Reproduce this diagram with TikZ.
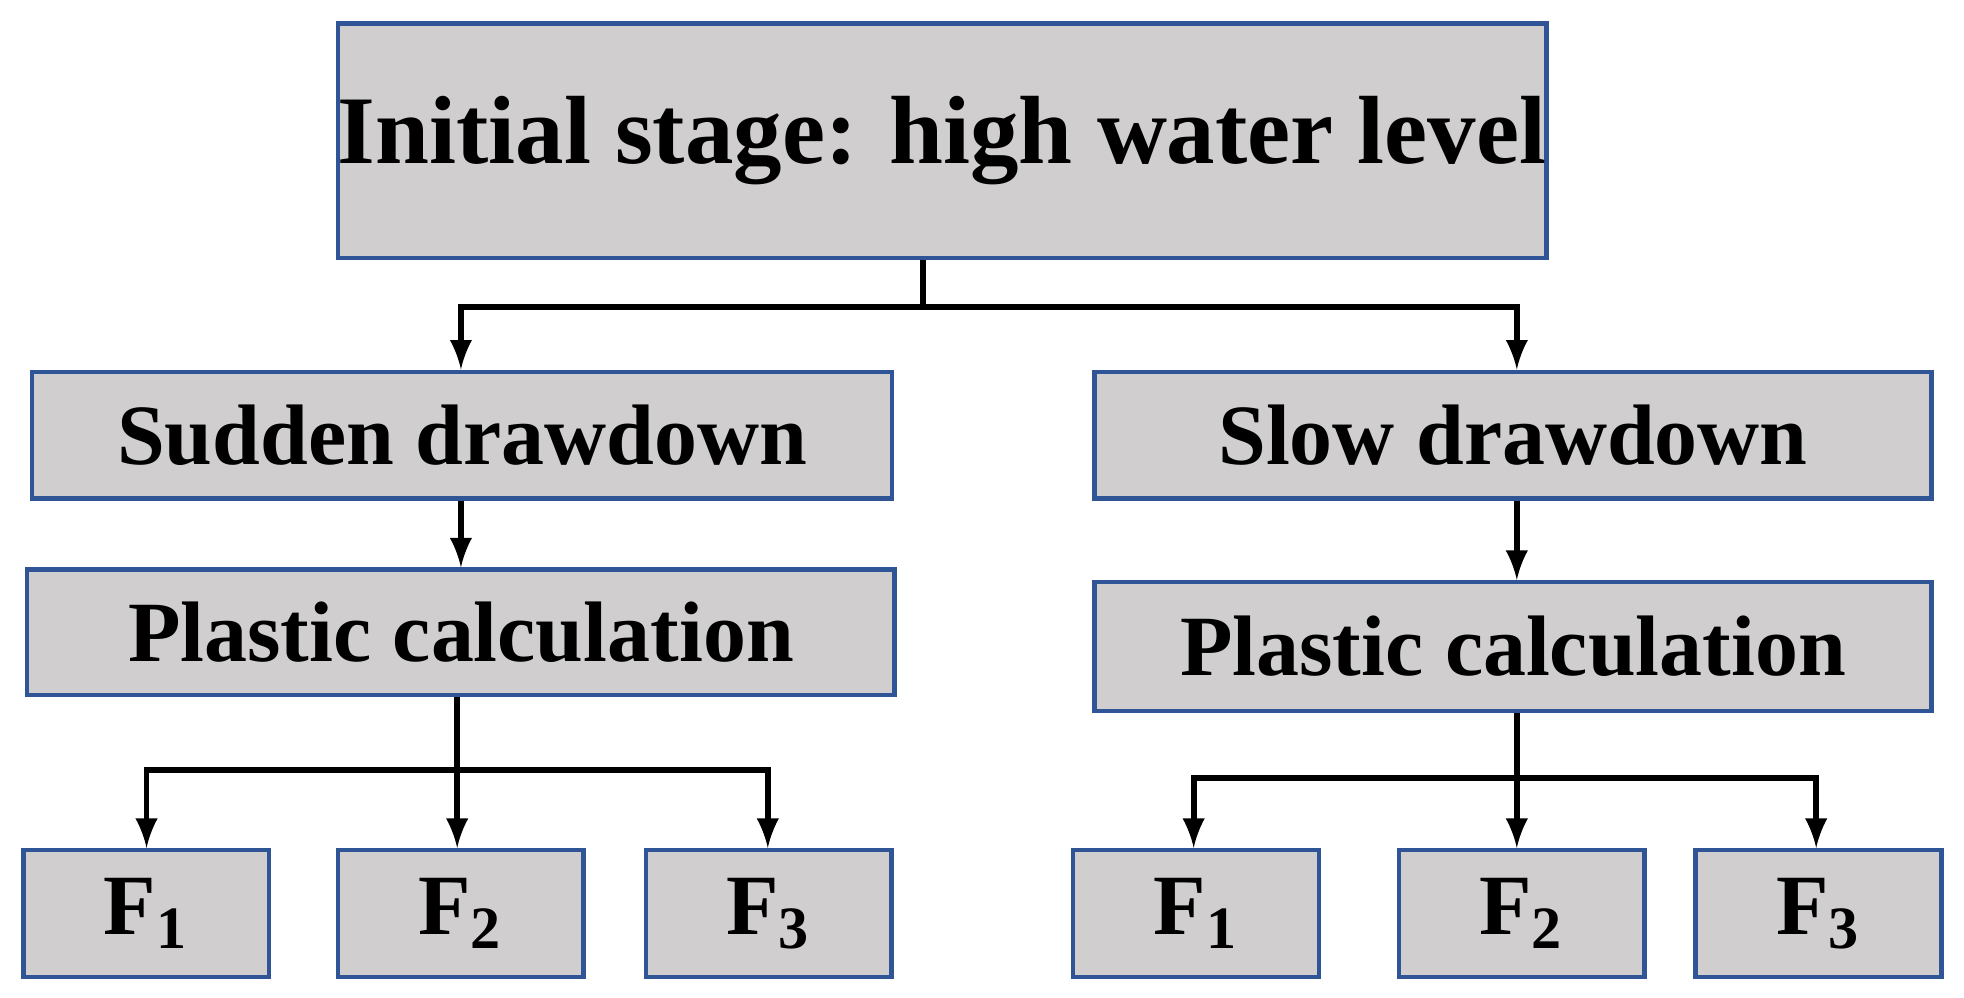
\documentclass[tikz,border=0pt]{standalone}
\usepackage{fontspec}
\setmainfont{Liberation Serif}
\usetikzlibrary{calc}
\usetikzlibrary{positioning}
\definecolor{boxfill}{HTML}{D0CECF}
\definecolor{boxline}{HTML}{2F5597}
\begin{document}
\begin{tikzpicture}
		[x=0.01cm,y=-0.01cm,
		font=\bfseries,
		>=latex
		]
		
		% Box and arrow styles
		\tikzstyle{box}=[draw=boxline,fill=boxfill,line width=1pt,inner sep=0,anchor=north west];
		\tikzstyle{arrow}=[draw,line width=1.3pt,->];
		\useasboundingbox (0,0) rectangle (1568,796);
		
		% Top level
		\node(top)[box,minimum width=9.37cm,minimum height=1.87cm,font=\fontsize{22}{26}\bfseries]at(268,17){Initial stage: high water level};
		
		% Second level
		\node(sudden)[box,minimum width=6.86cm,minimum height=1.01cm,font=\fontsize{19.5}{23}\bfseries]at(24,295){Sudden drawdown};
		\node(slow)[box,minimum width=6.68cm,minimum height=1.01cm,font=\fontsize{19.5}{23}\bfseries]at(872,295){Slow drawdown};
		
		% Plastic calculation
		\node(plastL)[box,minimum width=6.92cm,minimum height=1.00cm,font=\fontsize{19.5}{23}\bfseries]at(20,453){Plastic calculation};
		\node(plastR)[box,minimum width=6.68cm,minimum height=1.03cm,font=\fontsize{19.5}{23}\bfseries]at(872,463){Plastic calculation};
		
		% Factors
		\foreach \n/\x/\i in {L1/17/1, L2/268/2, L3/514/3, R1/855/1, R2/1115/2, R3/1352/3}
		\node(F\n)[box,minimum width=1.96cm,minimum height=1.01cm,font=\fontsize{19.5}{23}\bfseries]at(\x,677){F$_{\mathbf{\i}}$};
		
		% Connectors
		\coordinate(j0)at(737,245);
		\draw[line width=1.3pt](top.south-|j0)--(j0);
		\draw[arrow](j0)-|(sudden.north-|368,0);
		\draw[arrow](j0)-|(slow.north-|1211,0);
		\draw[arrow](sudden.south-|368,0)--(plastL.north-|368,0);
		\draw[arrow](slow.south-|1211,0)--(plastR.north-|1211,0);
		
		\coordinate(jL)at(365,615);
		\draw[line width=1.3pt](plastL.south-|jL)--(jL);
		\foreach \n/\x in {L1/117, L2/365, L3/613}
		\draw[arrow](jL)-|(F\n.north-|\x,0);
		
		\coordinate(jR)at(1211,621);
		\draw[line width=1.3pt](plastR.south-|jR)--(jR);
		\foreach \n/\x in {R1/953, R2/1211, R3/1450}
		\draw[arrow](jR)-|(F\n.north-|\x,0);
		\end{tikzpicture}
\end{document}
